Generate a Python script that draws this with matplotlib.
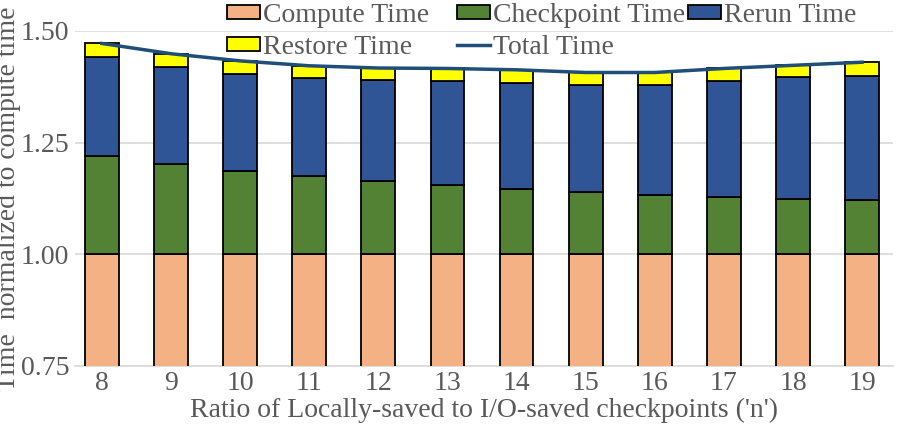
import numpy as np
import matplotlib
matplotlib.use('Agg')
import matplotlib.pyplot as plt

plt.rcParams['font.family'] = 'serif'
plt.rcParams['font.serif'] = ['Liberation Serif', 'DejaVu Serif']

ratios = ['8', '9', '10', '11', '12', '13', '14', '15', '16', '17', '18', '19']
compute_time = [1.0] * 12
checkpoint_time = [0.220, 0.201, 0.186, 0.175, 0.163, 0.154, 0.147, 0.140, 0.133, 0.128, 0.124, 0.121]
rerun_time = [0.221, 0.218, 0.217, 0.220, 0.228, 0.233, 0.236, 0.240, 0.247, 0.259, 0.272, 0.278]
restore_time = [0.031, 0.030, 0.030, 0.027, 0.026, 0.029, 0.030, 0.027, 0.027, 0.029, 0.027, 0.031]

text_grey = '#595959'
grid_grey = '#D9D9D9'
fs = 20

fig = plt.figure(figsize=(9.04, 4.24), dpi=100)
ax = fig.add_axes([0.083, 0.137, 0.905, 0.790])

x = np.arange(len(ratios))
comp = np.array(compute_time)
ckpt = np.array(checkpoint_time)
rerun = np.array(rerun_time)
rest = np.array(restore_time)
total = comp + ckpt + rerun + rest

w = 0.49
kw = dict(width=w, edgecolor='black', linewidth=1.3, zorder=3)
b_comp = ax.bar(x, comp, color='#F4B183', label='Compute Time', **kw)
b_ckpt = ax.bar(x, ckpt, bottom=comp, color='#548235', label='Checkpoint Time', **kw)
b_rerun = ax.bar(x, rerun, bottom=comp + ckpt, color='#2F5597', label='Rerun Time', **kw)
b_rest = ax.bar(x, rest, bottom=comp + ckpt + rerun, color='#FFFF00', label='Restore Time', **kw)
l_tot, = ax.plot(x, total, color='#1F4E79', linewidth=2.5, label='Total Time', zorder=4)

ax.set_ylim(0.75, 1.5)
ax.set_xlim(-0.39, 11.45)
ax.set_yticks([0.75, 1.00, 1.25, 1.50])
ax.set_yticklabels(['0.75', '1.00', '1.25', '1.50'])
ax.set_xticks(x)
ax.set_xticklabels(ratios)
ax.grid(axis='y', color=grid_grey, linewidth=1.2, zorder=0)
for s in ['top', 'right', 'left']:
    ax.spines[s].set_visible(False)
ax.spines['bottom'].set_color(grid_grey)
ax.spines['bottom'].set_linewidth(1.2)
ax.tick_params(axis='both', length=0, labelsize=fs, colors=text_grey, pad=4)

ax.set_xlabel("Ratio of Locally-saved to I/O-saved checkpoints ('n')", fontsize=fs,
              color=text_grey, labelpad=1)
ax.set_ylabel('Time  normalized to compute time', fontsize=fs, color=text_grey)
ax.yaxis.set_label_coords(-0.066, 0.5)

# three one-column legends, placed like the original's columns
columns = [([b_comp, b_rest], 227), ([b_ckpt, l_tot], 457), ([b_rerun], 688)]
for hs, px in columns:
    leg = fig.legend(hs, [h.get_label() for h in hs], loc='upper left',
                     bbox_to_anchor=(px / 904, 0.992), frameon=False, fontsize=fs,
                     handlelength=1.19, handleheight=0.4, handletextpad=0.1,
                     labelspacing=0.22, borderpad=0, borderaxespad=0)
    for t in leg.get_texts():
        t.set_color(text_grey)

fig.savefig('out.png', dpi=100)
